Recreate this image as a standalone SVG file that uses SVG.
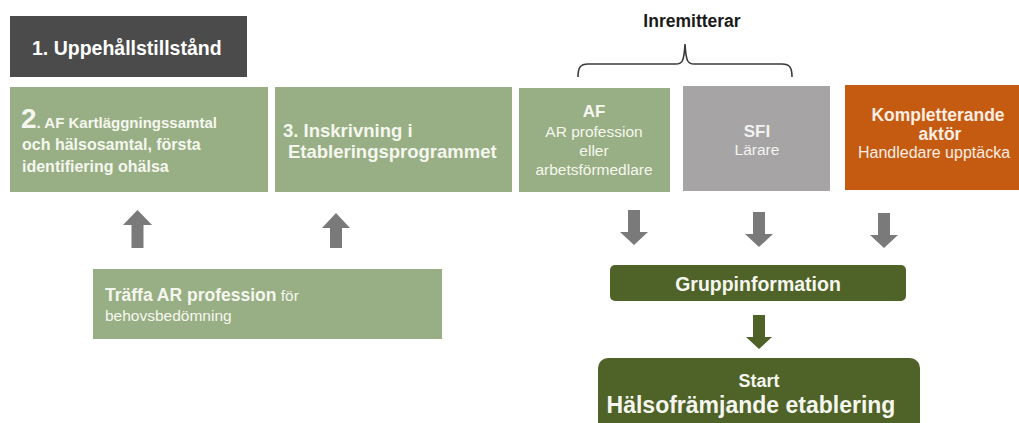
<svg xmlns="http://www.w3.org/2000/svg" width="1019" height="423" viewBox="0 0 1019 423">
<style>
  text { font-family: "Liberation Sans", Arial, sans-serif; }
  .b { font-weight: bold; }
  .wt { fill: #f5f7ef; }
  .green { fill: #98ae84; }
  .olive { fill: #4f6228; }
  .garrow { fill: #7a7a7a; }
  .oarrow { fill: #4f6228; }
</style>
<rect width="1019" height="423" fill="#ffffff"/>

<g id="node-uppehall">
  <rect x="10" y="16" width="237" height="61" fill="#4b4b4b"/>
  <text x="32" y="55" font-size="19.5" class="b" fill="#ffffff">1. Uppehållstillstånd</text>
</g>

<g id="node-kartlaggning">
  <rect class="green" x="10" y="87" width="258" height="105"/>
  <text class="wt b" y="128"><tspan x="21" font-size="28">2</tspan><tspan font-size="15">. AF Kartläggningssamtal</tspan></text>
  <text class="wt b" x="22" y="150" font-size="16">och hälsosamtal, första</text>
  <text class="wt b" x="22" y="172" font-size="16">identifiering ohälsa</text>
</g>

<g id="node-inskrivning">
  <rect class="green" x="275" y="87" width="237" height="105"/>
  <text class="wt b" x="283" y="137" font-size="18.5">3. Inskrivning i</text>
  <text class="wt b" x="288" y="158" font-size="18.5">Etableringsprogrammet</text>
</g>

<g id="node-af">
  <rect class="green" x="519" y="88" width="151" height="104"/>
  <text class="wt b" x="594" y="117" font-size="17" text-anchor="middle">AF</text>
  <text class="wt" x="594" y="137" font-size="15.5" text-anchor="middle">AR profession</text>
  <text class="wt" x="594" y="156" font-size="15.5" text-anchor="middle">eller</text>
  <text class="wt" x="594" y="175" font-size="15.5" text-anchor="middle">arbetsförmedlare</text>
</g>

<g id="node-sfi">
  <rect x="683" y="86" width="147" height="105" fill="#a6a4a4"/>
  <text class="b" x="757" y="137" font-size="17" text-anchor="middle" fill="#f2f2f2">SFI</text>
  <text x="757" y="155" font-size="15.5" text-anchor="middle" fill="#f2f2f2">Lärare</text>
</g>

<g id="node-kompletterande">
  <rect x="845" y="85" width="174" height="105" fill="#c55a11"/>
  <text class="b" x="938" y="121" font-size="17.5" text-anchor="middle" fill="#fbeee4">Kompletterande</text>
  <text class="b" x="940" y="140" font-size="17.5" text-anchor="middle" fill="#fbeee4">aktör</text>
  <text x="934" y="158" font-size="16" text-anchor="middle" fill="#fbeee4">Handledare  upptäcka</text>
</g>

<g id="node-inremitterar">
  <text class="b" x="692" y="27" font-size="17.5" text-anchor="middle" fill="#1a1a1a">Inremitterar</text>
  <path d="M578,77 C578,68 580,64 588,64 L676,64 C682,64 684,62 685,44 C686,62 688,64 694,64 L782,64 C790,64 792,68 792,77" fill="none" stroke="#3a3a3a" stroke-width="1.6"/>
</g>

<g id="node-traffa">
  <rect class="green" x="93" y="269" width="349" height="70"/>
  <text class="wt" x="105" y="301"><tspan class="b" font-size="17.5">Träffa AR profession</tspan><tspan font-size="15.5"> för</tspan></text>
  <text class="wt" x="105" y="321" font-size="15.5">behovsbedömning</text>
</g>

<g id="node-gruppinformation">
  <rect class="olive" x="610" y="265" width="296" height="36" rx="5"/>
  <text class="wt b" x="758" y="291" font-size="19.5" text-anchor="middle">Gruppinformation</text>
</g>

<g id="node-start">
  <rect class="olive" x="598" y="358" width="322" height="80" rx="10"/>
  <text class="wt b" x="759" y="387" font-size="18" text-anchor="middle">Start</text>
  <text class="wt b" x="751" y="413" font-size="23" text-anchor="middle">Hälsofrämjande  etablering</text>
</g>

<g id="connectors">
  <polygon class="garrow" points="137.5,210 152,225 143.5,225 143.5,248 131.5,248 131.5,225 123,225"/>
  <polygon class="garrow" points="336,213 350,228 342,228 342,248 330,248 330,228 322,228"/>
  <polygon class="garrow" points="628,210 640,210 640,232 648,232 634,245 620,232 628,232"/>
  <polygon class="garrow" points="753,212 765,212 765,234 773,234 759,247 745,234 753,234"/>
  <polygon class="garrow" points="878,213 890,213 890,235 898,235 884,248 870,235 878,235"/>
  <polygon class="oarrow" points="753,315 765,315 765,337 772,337 759,349 746,337 753,337"/>
</g>
</svg>
